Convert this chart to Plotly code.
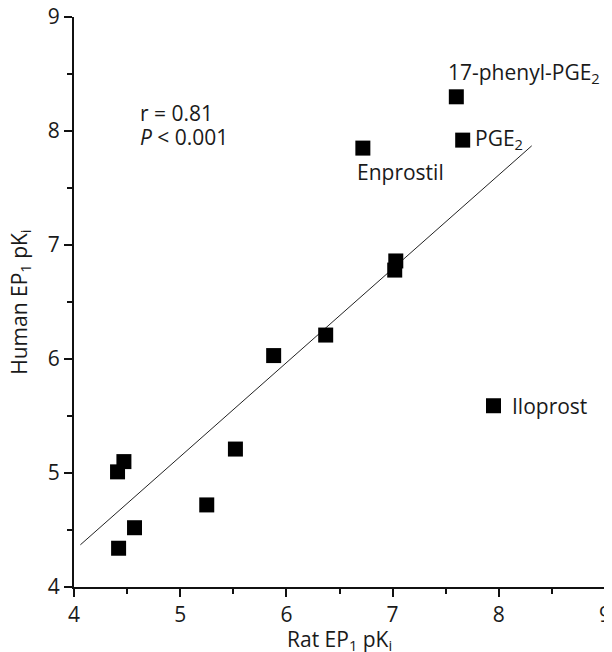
import plotly.graph_objects as go

# Data: (Rat EP1 pKi, Human EP1 pKi)
rat_pki = [4.41, 4.47, 4.42, 4.57, 5.25, 5.52, 5.88, 6.37, 7.03, 7.02, 6.72, 7.60, 7.66, 7.95]
human_pki = [5.01, 5.10, 4.34, 4.52, 4.72, 5.21, 6.03, 6.21, 6.86, 6.78, 7.85, 8.30, 7.92, 5.59]

fit_x = [4.06, 8.31]
fit_y = [4.37, 7.87]

labels = ["17-phenyl-PGE<sub>2</sub>", "PGE<sub>2</sub>", "Enprostil", "Iloprost"]
label_x = [7.50, 7.76, 6.65, 8.11]
label_y = [8.51, 7.93, 7.64, 5.59]

stats_text = ["r = 0.81", "<i>P</i> < 0.001"]
stats_x = [4.60, 4.60]
stats_y = [8.16, 7.95]

tick_vals = [4, 5, 6, 7, 8, 9]
minor_vals = [4.5, 5.5, 6.5, 7.5, 8.5]

x_title = "Rat EP<sub>1</sub> pK<sub>i</sub>"
y_title = "Human EP<sub>1</sub> pK<sub>i</sub>"

FONT = "Open Sans"
TXT = "#1a1a1a"

fig = go.Figure()
fig.add_trace(go.Scatter(x=fit_x, y=fit_y, mode="lines",
                         line=dict(color="#222", width=1), showlegend=False,
                         hoverinfo="skip"))
fig.add_trace(go.Scatter(x=rat_pki, y=human_pki, mode="markers",
                         marker=dict(symbol="square", size=15, color="black"),
                         showlegend=False))

for t, x, y in zip(labels, label_x, label_y):
    fig.add_annotation(x=x, y=y, text=t, showarrow=False, xanchor="left",
                       yanchor="middle", font=dict(family=FONT, size=21, color=TXT))
for t, x, y in zip(stats_text, stats_x, stats_y):
    fig.add_annotation(x=x, y=y, text=t, showarrow=False, xanchor="left",
                       yanchor="middle", font=dict(family=FONT, size=21, color=TXT))

fig.add_annotation(xref="paper", yref="paper", x=0.5, y=-0.093, text=x_title,
                   showarrow=False, xanchor="center", yanchor="middle",
                   font=dict(family=FONT, size=21, color=TXT))
fig.add_annotation(xref="paper", yref="paper", x=-0.102, y=0.5, text=y_title,
                   showarrow=False, xanchor="center", yanchor="middle", textangle=-90,
                   font=dict(family=FONT, size=21, color=TXT))

axis_common = dict(
    range=[4, 9], tickvals=tick_vals, ticks="outside", ticklen=8, tickwidth=2,
    tickcolor="#111", showline=True, linecolor="#111", linewidth=2,
    showgrid=False, zeroline=False, automargin=False, ticklabeloverflow="allow",
    tickfont=dict(family=FONT, size=21, color=TXT),
    minor=dict(tickvals=minor_vals, ticks="outside", ticklen=5, tickwidth=2,
               tickcolor="#111", showgrid=False),
)

# page body has an 8px default margin, so the figure is sized/offset to compensate
fig.update_layout(
    width=604, height=644,
    margin=dict(l=66, r=7, t=9, b=65),
    plot_bgcolor="white", paper_bgcolor="white",
    xaxis=dict(**axis_common),
    yaxis=dict(**axis_common),
)

fig.write_html("out.html")
